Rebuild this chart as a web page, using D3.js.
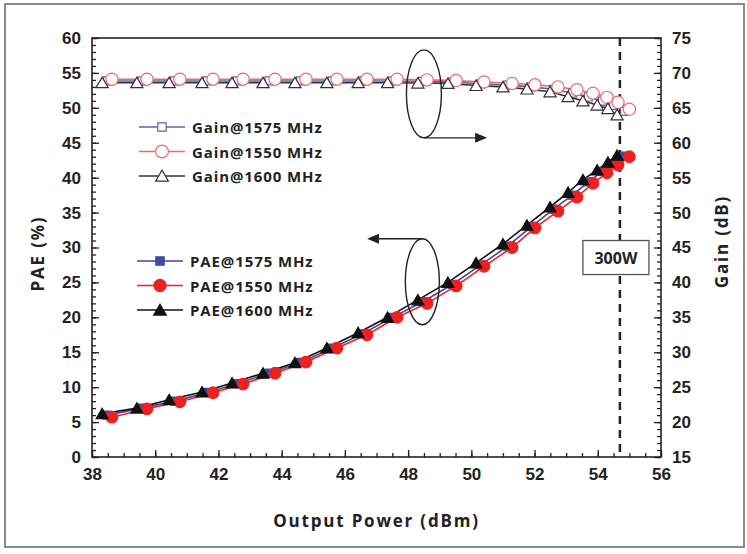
<!DOCTYPE html>
<html lang="en">
<head>
<meta charset="UTF-8">
<script src="https://d3js.org/d3.v7.min.js"></script>
<title>PAE and Gain vs Output Power</title>
<style>
    body { margin: 0; background: #fff; }
    svg { display: block; font-family: "Open Sans", "DejaVu Sans", sans-serif; }
    .tick text { font-weight: 700; }
</style>
</head>
<body>
<svg width="747" height="554"></svg>
<script>
// x values (Output Power, dBm) for each frequency
const pout1600 = [38.32, 39.42, 40.44, 41.48, 42.43, 43.41, 44.42, 45.43, 46.42, 47.35, 48.31, 49.26, 50.15, 51.0, 51.76, 52.49, 53.06, 53.53, 53.98, 54.32, 54.61];
const pout1575 = [38.48, 39.58, 40.61, 41.65, 42.6, 43.6, 44.6, 45.6, 46.56, 47.5, 48.45, 49.4, 50.3, 51.15, 51.9, 52.6, 53.2, 53.7, 54.15, 54.5, 54.85];
const pout1550 = [38.63, 39.74, 40.78, 41.83, 42.78, 43.79, 44.77, 45.75, 46.7, 47.65, 48.6, 49.52, 50.4, 51.29, 52.01, 52.74, 53.34, 53.85, 54.29, 54.64, 55.0];

// PAE (%)
const pae1600 = [6.2, 7.0, 8.2, 9.3, 10.6, 12.0, 13.5, 15.6, 17.8, 20.0, 22.5, 25.0, 27.8, 30.5, 33.2, 35.8, 37.9, 39.7, 41.1, 42.2, 43.2];
const pae1575 = [6.0, 7.0, 8.0, 9.25, 10.5, 12.0, 13.55, 15.6, 17.65, 20.0, 22.2, 24.7, 27.5, 30.2, 33.0, 35.5, 37.5, 39.4, 40.9, 42.0, 43.1];
const pae1550 = [5.7, 6.9, 7.9, 9.2, 10.45, 12.0, 13.6, 15.6, 17.5, 20.0, 22.0, 24.5, 27.3, 30.0, 32.8, 35.2, 37.2, 39.2, 40.7, 41.8, 43.0];

// Gain (dB)
const gain1600 = [68.6, 68.6, 68.6, 68.6, 68.6, 68.6, 68.6, 68.6, 68.6, 68.6, 68.55, 68.5, 68.2, 68.0, 67.7, 67.3, 66.6, 66.0, 65.4, 64.9, 64.0];
const gain1575 = [68.85, 68.85, 68.85, 68.85, 68.85, 68.85, 68.85, 68.85, 68.85, 68.85, 68.8, 68.7, 68.45, 68.25, 68.0, 67.65, 67.1, 66.55, 65.95, 65.35, 64.5];
const gain1550 = [69.1, 69.1, 69.1, 69.1, 69.1, 69.1, 69.1, 69.1, 69.1, 69.1, 69.0, 68.9, 68.7, 68.5, 68.3, 68.0, 67.6, 67.1, 66.5, 65.8, 64.8];

const xTicks = [38, 40, 42, 44, 46, 48, 50, 52, 54, 56];
const paeTicks = [0, 5, 10, 15, 20, 25, 30, 35, 40, 45, 50, 55, 60];
const gainTicks = [15, 20, 25, 30, 35, 40, 45, 50, 55, 60, 65, 70, 75];
const marker300W = 54.7;

const svg = d3.select("svg");
const margin = {top: 38, right: 86, bottom: 97, left: 92};
const width = 747, height = 554;

// outer frame of the figure
svg.append("rect")
    .attr("x", 5).attr("y", 4)
    .attr("width", 739).attr("height", 543)
    .attr("fill", "#fff").attr("stroke", "#8a8a8a").attr("stroke-width", 2);

const x = d3.scaleLinear().domain([38, 56]).range([margin.left, width - margin.right]);
const yPae = d3.scaleLinear().domain([0, 60]).range([height - margin.bottom, margin.top]);
const yGain = d3.scaleLinear().domain([15, 75]).range([height - margin.bottom, margin.top]);

const x0 = x.range()[0], x1 = x.range()[1];
const yb = yPae.range()[0], yt = yPae.range()[1];

// axes: minor ticks first, then major ticks with labels
function axisPair(g, axisFn, scale, minorVals, majorVals, transform) {
    g.append("g").attr("transform", transform)
        .call(axisFn(scale).tickValues(minorVals).tickSize(-4).tickFormat(""))
        .call(a => a.select(".domain").remove());
    g.append("g").attr("transform", transform)
        .call(axisFn(scale).tickValues(majorVals).tickSize(-7).tickPadding(11))
        .call(a => a.select(".domain").remove());
}

const axes = svg.append("g").attr("class", "axes");
axisPair(axes, d3.axisBottom, x, d3.range(38, 56.01, 0.5), xTicks, `translate(0,${yb})`);
axisPair(axes, d3.axisLeft, yPae, d3.range(0, 61, 1), paeTicks, `translate(${x0},0)`);
axisPair(axes, d3.axisRight, yGain, d3.range(15, 76, 1), gainTicks, `translate(${x1},0)`);
axes.selectAll(".tick line").attr("stroke", "#222").attr("stroke-width", 1.3);
axes.selectAll(".tick text").attr("font-size", 17).attr("fill", "#222");

// frame of the plot
svg.append("rect")
    .attr("x", x0).attr("y", yt)
    .attr("width", x1 - x0).attr("height", yb - yt)
    .attr("fill", "none").attr("stroke", "#222").attr("stroke-width", 1.6);

// 300 W marker
svg.append("line")
    .attr("x1", x(marker300W)).attr("x2", x(marker300W))
    .attr("y1", yt).attr("y2", yb)
    .attr("stroke", "#222").attr("stroke-width", 2.5)
    .attr("stroke-dasharray", "8,6");

svg.append("rect")
    .attr("x", x(marker300W) - 37).attr("y", yPae(31))
    .attr("width", 66).attr("height", 34)
    .attr("fill", "#fff").attr("stroke", "#555").attr("stroke-width", 1.3);
svg.append("text")
    .attr("x", x(marker300W) - 4).attr("y", yPae(31) + 23)
    .attr("text-anchor", "middle").attr("font-size", 16).attr("font-weight", 700)
    .attr("fill", "#222").text("300W");

// series
const series = [
    {name: "Gain@1575 MHz", xs: pout1575, ys: gain1575, scale: yGain, color: "#5564b0", shape: d3.symbolSquare, size: 64, filled: false},
    {name: "Gain@1550 MHz", xs: pout1550, ys: gain1550, scale: yGain, color: "#ee6a6a", shape: d3.symbolCircle, size: 118, filled: false},
    {name: "Gain@1600 MHz", xs: pout1600, ys: gain1600, scale: yGain, color: "#333", shape: d3.symbolTriangle, size: 64, filled: false},
    {name: "PAE@1575 MHz", xs: pout1575, ys: pae1575, scale: yPae, color: "#3d4aa0", shape: d3.symbolSquare, size: 64, filled: true},
    {name: "PAE@1550 MHz", xs: pout1550, ys: pae1550, scale: yPae, color: "#f02020", shape: d3.symbolCircle, size: 105, filled: true},
    {name: "PAE@1600 MHz", xs: pout1600, ys: pae1600, scale: yPae, color: "#111", shape: d3.symbolTriangle, size: 62, filled: true}
];

const plot = svg.append("g").attr("class", "series");
series.forEach(s => {
    const pts = s.xs.map((v, i) => [v, s.ys[i]]);
    const line = d3.line().x(d => x(d[0])).y(d => s.scale(d[1]));
    plot.append("path").datum(pts)
        .attr("d", line).attr("fill", "none")
        .attr("stroke", s.color).attr("stroke-width", 1.6);
});
series.forEach(s => {
    const pts = s.xs.map((v, i) => [v, s.ys[i]]);
    plot.append("g").selectAll("path").data(pts).join("path")
        .attr("transform", d => `translate(${x(d[0])},${s.scale(d[1]) + (s.shape === d3.symbolTriangle ? 1.5 : 0)})`)
        .attr("d", d3.symbol().type(s.shape).size(s.size))
        .attr("fill", s.filled ? s.color : "#fff")
        .attr("stroke", s.color).attr("stroke-width", 1.2);
});

// legends
function legend(items, lx, ly) {
    const g = svg.append("g").attr("transform", `translate(${lx},${ly})`);
    items.forEach((s, i) => {
        const row = g.append("g").attr("transform", `translate(0,${i * 24.5})`);
        row.append("line").attr("x1", 0).attr("x2", 46)
            .attr("stroke", s.color).attr("stroke-width", 1.6);
        row.append("path").attr("transform", `translate(23,${s.shape === d3.symbolTriangle ? 1.5 : 0})`)
            .attr("d", d3.symbol().type(s.shape).size(s.size * 1.1))
            .attr("fill", s.filled ? s.color : "#fff")
            .attr("stroke", s.color).attr("stroke-width", 1.2);
        row.append("text").attr("x", 53).attr("y", 6)
            .attr("font-size", 15).attr("font-weight", 700)
            .attr("letter-spacing", 0.9).attr("fill", "#222")
            .text(s.name);
    });
}
legend(series.slice(0, 3), 139, 127);
legend(series.slice(3), 137, 261);

// ellipses and arrows
const arrowHead = (g, tipX, tipY, dir) => {
    g.append("path")
        .attr("d", `M${tipX},${tipY} L${tipX - dir * 12},${tipY - 5} L${tipX - dir * 12},${tipY + 5} Z`)
        .attr("fill", "#222").attr("stroke", "none");
};

const ann = svg.append("g").attr("stroke", "#222").attr("fill", "none").attr("stroke-width", 1.4);
const upperC = [48.5, 52], lowerC = [48.45, 25.1];
ann.append("ellipse")
    .attr("cx", x(upperC[0])).attr("cy", yPae(upperC[1]))
    .attr("rx", 17.5).attr("ry", 44);
ann.append("line")
    .attr("x1", x(upperC[0])).attr("y1", yPae(upperC[1]) + 44)
    .attr("x2", x(50.5) - 6).attr("y2", yPae(upperC[1]) + 44);
arrowHead(ann, x(50.5), yPae(upperC[1]) + 44, 1);
ann.append("ellipse")
    .attr("cx", x(lowerC[0])).attr("cy", yPae(lowerC[1]))
    .attr("rx", 17).attr("ry", 43);
ann.append("line")
    .attr("x1", x(lowerC[0])).attr("y1", yPae(lowerC[1]) - 43)
    .attr("x2", x(46.7) + 6).attr("y2", yPae(lowerC[1]) - 43);
arrowHead(ann, x(46.7), yPae(lowerC[1]) - 43, -1);

// axis titles
svg.append("text")
    .attr("transform", `translate(44,${(yt + yb) / 2 + 6}) rotate(-90)`)
    .attr("text-anchor", "middle").attr("font-size", 17).attr("font-weight", 700)
    .attr("letter-spacing", 1.8).attr("fill", "#222").text("PAE (%)");
svg.append("text")
    .attr("transform", `translate(728,${(yt + yb) / 2 - 6}) rotate(-90)`)
    .attr("text-anchor", "middle").attr("font-size", 17).attr("font-weight", 700)
    .attr("letter-spacing", 1.8).attr("fill", "#222").text("Gain (dB)");
svg.append("text")
    .attr("x", (x0 + x1) / 2).attr("y", 527)
    .attr("text-anchor", "middle").attr("font-size", 17).attr("font-weight", 700)
    .attr("letter-spacing", 1.8).attr("fill", "#222").text("Output Power (dBm)");
</script>
</body>
</html>
